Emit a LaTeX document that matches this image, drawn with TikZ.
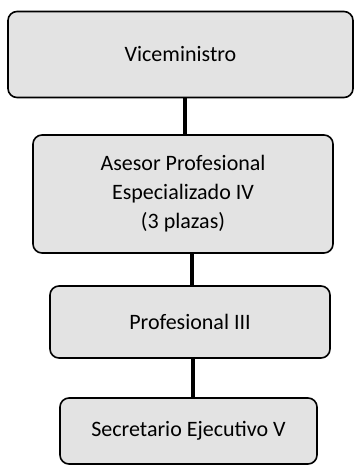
\documentclass[tikz,border=0pt]{standalone}
\usepackage{fontspec}
\setmainfont{Carlito}
\begin{document}
\begin{tikzpicture}[x=1pt,y=-1pt,
  box/.style={draw=black, line width=1.6pt, rounded corners=9pt, fill=gray!22, font=\fontsize{22}{29}\selectfont, align=center, inner sep=0pt},
  conn/.style={line width=4pt}]
\useasboundingbox (0,0) rectangle (354,466);
\node[box, minimum width=345pt, minimum height=86pt] (v) at (180.5,54.5) {Viceministro};
\node[box, minimum width=300pt, minimum height=118pt] (a) at (183,194) {Asesor Profesional\\Especializado IV\\(3 plazas)};
\node[box, minimum width=280pt, minimum height=72pt] (p) at (190,322) {Profesional III};
\node[box, minimum width=257pt, minimum height=66pt] (s) at (188.5,431) {Secretario Ejecutivo V};
\draw[conn] (v.south -| 185,0) -- (a.north -| 185,0);
\draw[conn] (a.south -| 192,0) -- (p.north -| 192,0);
\draw[conn] (p.south -| 193,0) -- (s.north -| 193,0);
\end{tikzpicture}
\end{document}
